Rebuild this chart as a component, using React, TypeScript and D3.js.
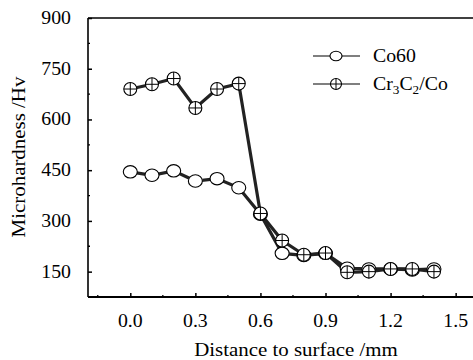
import { useEffect, useRef } from 'react';
import * as d3 from 'd3';

const depths = [0.0, 0.1, 0.2, 0.3, 0.4, 0.5, 0.6, 0.7, 0.8, 0.9, 1.0, 1.1, 1.2, 1.3, 1.4];
const co60 = [445, 435, 448, 418, 425, 398, 320, 204, 198, 204, 160, 158, 158, 155, 158];
const cr3c2 = [690, 704, 721, 634, 690, 706, 322, 242, 200, 205, 148, 150, 158, 158, 150];
const xTicks = [0.0, 0.3, 0.6, 0.9, 1.2, 1.5];
const yTicks = [150, 300, 450, 600, 750, 900];

const App = () => {
  const svgRef = useRef(null);

  useEffect(() => {
    const width = 473;
    const height = 360;
    const left = 88, right = 473, top = 18, bottom = 297;
    const font = '"Liberation Serif", "DejaVu Serif", serif';
    const sx = 1.1; // the original type is a bit wide

    const svg = d3.select(svgRef.current)
      .attr('width', width)
      .attr('height', height);
    svg.selectAll('*').remove();

    const x = d3.scaleLinear().domain([-0.195, 1.58]).range([left, right]);
    const y = d3.scaleLinear().domain([75, 900]).range([bottom, top]);

    // frame
    svg.append('line').attr('x1', left).attr('x2', right).attr('y1', top).attr('y2', top)
      .attr('stroke', '#000').attr('stroke-width', 1.3);

    // x axis, ticks inside
    const xAxis = svg.append('g').attr('transform', `translate(0,${bottom})`)
      .call(d3.axisTop(x).tickValues(xTicks).tickSize(4).tickFormat(() => ''));
    xAxis.select('.domain').remove();
    xAxis.selectAll('line').attr('stroke-width', 1.5);
    const minorX = d3.range(-0.15, 1.6, 0.3);
    svg.append('g').selectAll('line').data(minorX).enter().append('line')
      .attr('x1', d => x(d)).attr('x2', d => x(d))
      .attr('y1', bottom).attr('y2', bottom - 2)
      .attr('stroke', '#000').attr('stroke-width', 1.3);
    svg.append('line').attr('x1', left).attr('x2', right).attr('y1', bottom).attr('y2', bottom)
      .attr('stroke', '#000').attr('stroke-width', 2.2);
    svg.append('g').selectAll('text').data(xTicks).enter().append('text')
      .attr('transform', d => `translate(${x(d)},327) scale(${sx},1)`)
      .attr('text-anchor', 'middle')
      .style('font-family', font).style('font-size', '18px')
      .text(d => d.toFixed(1));

    // y axis
    const yAxis = svg.append('g').attr('transform', `translate(${left},0)`)
      .call(d3.axisRight(y).tickValues(yTicks).tickSize(4).tickFormat(() => ''));
    yAxis.select('.domain').remove();
    yAxis.selectAll('line').attr('stroke-width', 1.5);
    const minorY = d3.range(225, 900, 150);
    svg.append('g').selectAll('line').data(minorY).enter().append('line')
      .attr('x1', left).attr('x2', left + 2)
      .attr('y1', d => y(d)).attr('y2', d => y(d))
      .attr('stroke', '#000').attr('stroke-width', 1.3);
    svg.append('line').attr('x1', left).attr('x2', left).attr('y1', top).attr('y2', bottom)
      .attr('stroke', '#000').attr('stroke-width', 1.6);
    svg.append('g').selectAll('text').data(yTicks).enter().append('text')
      .attr('transform', d => `translate(71,${y(d) + 6}) scale(${sx},1)`)
      .attr('text-anchor', 'end')
      .style('font-family', font).style('font-size', '18px')
      .text(d => d);

    // titles
    svg.append('text').attr('transform', `translate(296,356) scale(${sx},1)`)
      .attr('text-anchor', 'middle')
      .style('font-family', font).style('font-size', '19px')
      .text('Distance to surface /mm');
    svg.append('text')
      .attr('transform', `translate(25,157) rotate(-90) scale(${sx},1)`)
      .attr('text-anchor', 'middle')
      .style('font-family', font).style('font-size', '19px')
      .text('Microhardness /Hv');

    const line = d3.line().x(d => x(d[0])).y(d => y(d[1]));
    const coPts = depths.map((d, i) => [d, co60[i]]);
    const crPts = depths.map((d, i) => [d, cr3c2[i]]);

    svg.append('path').datum(coPts).attr('d', line)
      .attr('fill', 'none').attr('stroke', '#222').attr('stroke-width', 3.2);
    svg.append('path').datum(crPts).attr('d', line)
      .attr('fill', 'none').attr('stroke', '#222').attr('stroke-width', 3.2);

    const drawCo = (g, cx, cy, rx, ry) => {
      g.append('ellipse').attr('cx', cx).attr('cy', cy).attr('rx', rx).attr('ry', ry)
        .attr('fill', '#fff').attr('stroke', '#000').attr('stroke-width', 1.1);
    };
    const drawCr = (g, cx, cy, r) => {
      g.append('circle').attr('cx', cx).attr('cy', cy).attr('r', r)
        .attr('fill', '#fff').attr('stroke', '#000').attr('stroke-width', 1.1);
      g.append('line').attr('x1', cx - r).attr('x2', cx + r).attr('y1', cy).attr('y2', cy)
        .attr('stroke', '#000').attr('stroke-width', 1);
      g.append('line').attr('x1', cx).attr('x2', cx).attr('y1', cy - r).attr('y2', cy + r)
        .attr('stroke', '#000').attr('stroke-width', 1);
    };

    const markers = svg.append('g');
    coPts.forEach(p => drawCo(markers, x(p[0]), y(p[1]), 7, 6.2));
    crPts.forEach(p => drawCr(markers, x(p[0]), y(p[1]), 6.5));

    // legend
    const legend = svg.append('g');
    legend.append('line').attr('x1', 313).attr('x2', 360).attr('y1', 56).attr('y2', 56)
      .attr('stroke', '#000').attr('stroke-width', 1.2);
    drawCo(legend, 336, 56, 6, 4.8);
    legend.append('text').attr('transform', `translate(373,62) scale(${sx},1)`)
      .style('font-family', font).style('font-size', '18px').text('Co60');
    legend.append('line').attr('x1', 313).attr('x2', 360).attr('y1', 84).attr('y2', 84)
      .attr('stroke', '#000').attr('stroke-width', 1.2);
    drawCr(legend, 336, 84, 5.5);
    const t = legend.append('text').attr('transform', `translate(373,90) scale(${sx},1)`)
      .style('font-family', font).style('font-size', '18px');
    t.append('tspan').text('Cr');
    t.append('tspan').attr('dy', 4).style('font-size', '12px').text('3');
    t.append('tspan').attr('dy', -4).text('C');
    t.append('tspan').attr('dy', 4).style('font-size', '12px').text('2');
    t.append('tspan').attr('dy', -4).text('/Co');
  }, []);

  return <svg ref={svgRef} style={{ position: 'absolute', left: 0, top: 0 }}></svg>;
};

export default App;
